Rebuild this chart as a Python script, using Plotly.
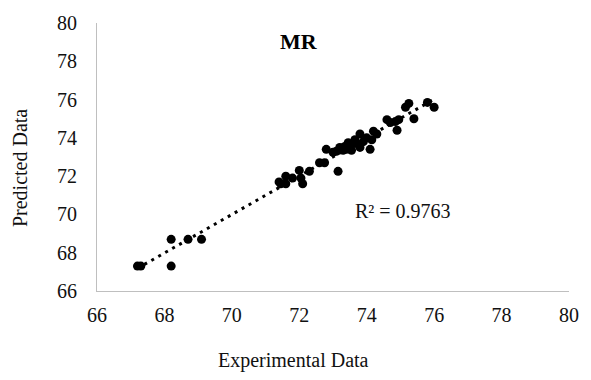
import numpy as np
import plotly.graph_objects as go

experimental = [67.2, 67.3, 68.2, 68.2, 68.7, 69.1,
                71.4, 71.6, 71.6, 71.45, 71.8, 72.0, 72.1, 72.05, 72.3,
                72.6, 72.75, 72.8, 73.0, 73.15, 73.2, 73.4, 73.45, 73.55,
                73.65, 73.8, 73.8, 74.0, 74.1, 74.2, 74.3, 74.15,
                73.3, 73.5, 73.7, 73.9, 73.1, 73.35,
                74.6, 74.7, 74.9, 74.95, 74.85, 75.15, 75.25, 75.4, 75.8, 76.0]
predicted = [67.3, 67.3, 67.3, 68.7, 68.7, 68.7,
             71.7, 72.0, 71.6, 71.6, 71.9, 72.3, 71.6, 71.9, 72.25,
             72.7, 72.7, 73.4, 73.25, 72.25, 73.5, 73.4, 73.75, 73.35,
             73.9, 74.2, 73.5, 74.0, 73.4, 74.35, 74.2, 73.9,
             73.35, 73.6, 73.7, 73.8, 73.3, 73.55,
             74.95, 74.8, 74.4, 74.95, 74.85, 75.6, 75.8, 75.0, 75.85, 75.6]

title_text = "MR"
x_title = "Experimental Data"
y_title = "Predicted Data"
r2_text = "R² = 0.9763"
tick_vals = [66, 68, 70, 72, 74, 76, 78, 80]

# linear trendline
slope, intercept = np.polyfit(experimental, predicted, 1)
tx = np.array([min(experimental), max(experimental)])
ty = slope * tx + intercept

FONT = "Liberation Serif, Times New Roman, serif"
W, H = 591, 380
L, R, T, B = 97, 14, 17, 89

fig = go.Figure()
fig.add_trace(go.Scatter(x=experimental, y=predicted, mode="markers",
                         marker=dict(color="black", size=9), showlegend=False))
fig.add_trace(go.Scatter(x=tx, y=ty, mode="lines",
                         line=dict(color="black", width=3, dash="3px,5px"),
                         showlegend=False))

fig.update_layout(
    width=W, height=H,
    margin=dict(l=L, r=R, t=T, b=B),
    paper_bgcolor="white", plot_bgcolor="white",
    font=dict(family=FONT, color="#111", size=20),
    xaxis=dict(range=[66, 80], tickvals=tick_vals, showgrid=False, zeroline=False,
               showline=True, linecolor="#bfbfbf", linewidth=1, ticks="",
               ticklabelstandoff=6, tickfont=dict(size=20, family=FONT)),
    yaxis=dict(range=[66, 80], tickvals=tick_vals, showgrid=False, zeroline=False,
               showline=True, linecolor="#bfbfbf", linewidth=1, ticks="",
               ticklabelstandoff=15, tickfont=dict(size=20, family=FONT)),
    annotations=[
        dict(text="<b>" + title_text + "</b>", x=302, y=36, xref="paper", yref="paper",
             showarrow=False, font=dict(size=22, family=FONT, color="black")),
        dict(text=r2_text, x=408, y=209, xref="paper", yref="paper",
             showarrow=False, font=dict(size=20, family=FONT, color="#111")),
        dict(text=x_title, x=297, y=362, xref="paper", yref="paper",
             showarrow=False, font=dict(size=20, family=FONT, color="#111")),
        dict(text=y_title, x=18, y=165, xref="paper", yref="paper", textangle=-90,
             showarrow=False, font=dict(size=20, family=FONT, color="#111")),
    ],
)

# convert page pixel positions of annotations to paper coordinates
pw, ph = W - L - R, H - T - B
for a in fig.layout.annotations:
    px, py = a.x, a.y
    a.x = (px - L) / pw
    a.y = 1 - (py - T) / ph
    a.xanchor = "center"
    a.yanchor = "middle"

fig.write_html("out.html",
               config={"displayModeBar": False},
               post_script="document.body.style.margin='0';document.body.style.overflow='hidden';")
